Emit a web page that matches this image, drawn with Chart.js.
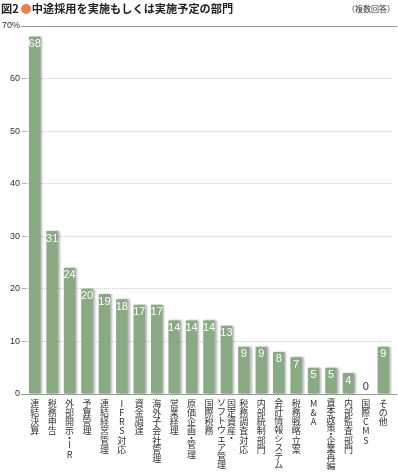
<!DOCTYPE html>
<html>
<head>
<meta charset="utf-8">
<script src="https://cdn.jsdelivr.net/npm/chart.js@4/dist/chart.umd.min.js"></script>
<style>
  body { margin: 0; background: #fff; }
  #wrap { position: relative; width: 398px; height: 474px; }
  #title { position: absolute; left: 1px; top: 0px; font: bold 11.2px "Noto Sans CJK JP", sans-serif; color: #222; line-height: 17px; }
  #title .dot { display: inline-block; width: 10px; height: 10px; border-radius: 50%; background: #e8824c; vertical-align: -1px; margin: 0 1px 0 2px; }
  #note { position: absolute; right: 3px; top: 1px; font: 8px "Noto Sans CJK JP", sans-serif; color: #333; line-height: 16px; }
  canvas { position: absolute; left: 0; top: 0; }
</style>
</head>
<body>
<div id="wrap">
  <canvas id="myChart" width="398" height="474"></canvas>
  <div id="title">図2<span class="dot"></span>中途採用を実施もしくは実施予定の部門</div>
  <div id="note">（複数回答）</div>
</div>
<script>
// 部門名 (縦書き、\n で2列)
const categories = [
  "連結決算", "税務申告", "外部開示・IR", "予算管理", "連結経営管理", "IFRS対応",
  "資金調達", "海外子会社管理", "営業経理", "原価企画・管理", "国際税務",
  "固定資産・\nソフトウェア管理", "税務調査対応", "内部統制部門", "会計情報システム",
  "税務戦略立案", "M&A", "資本政策・企業再編", "内部監査部門", "国際CMS", "その他"
];
// 割合 (%)
const values = [68, 31, 24, 20, 19, 18, 17, 17, 14, 14, 14, 13, 9, 9, 8, 7, 5, 5, 4, 0, 9];
// 目盛り
const yTicks = [0, 10, 20, 30, 40, 50, 60, 70];

const numFont = '"Liberation Sans", Arial, sans-serif';
const jpFont = '"Noto Sans CJK JP", sans-serif';

// 縦書き1列を描く (「・」は半分の高さ)
function drawColumn(ctx, text, cx, top, maxH) {
  const chars = Array.from(text);
  const units = chars.reduce((s, ch) => s + (ch === "・" ? 0.5 : 1), 0);
  const step = Math.min(9.3, maxH / units);
  let yy = top;
  chars.forEach(ch => {
    const h = ch === "・" ? step * 0.5 : step;
    ctx.fillText(ch, cx, yy + h / 2);
    yy += h;
  });
}

// 棒の影、数値、縦書きラベル、上の線
const extras = {
  id: "extras",
  beforeDatasetsDraw(chart) {
    const ctx = chart.ctx;
    ctx.save();
    ctx.shadowColor = "rgba(0,0,0,0.28)";
    ctx.shadowOffsetX = 2;
    ctx.shadowOffsetY = 0;
    ctx.shadowBlur = 2;
  },
  afterDatasetsDraw(chart) {
    const ctx = chart.ctx;
    ctx.restore();
    const meta = chart.getDatasetMeta(0);
    const x = chart.scales.x;
    const y = chart.scales.y;

    // 70% の線と0の線
    ctx.save();
    ctx.strokeStyle = "#9a9a9a";
    ctx.lineWidth = 1;
    [70, 0].forEach(v => {
      const py = Math.round(y.getPixelForValue(v)) + 0.5;
      ctx.beginPath();
      ctx.moveTo(21, py);
      ctx.lineTo(397, py);
      ctx.stroke();
    });
    ctx.restore();

    // 数値
    ctx.save();
    ctx.font = '11px "Liberation Sans Narrow", ' + numFont;
    ctx.textAlign = "center";
    ctx.textBaseline = "middle";
    meta.data.forEach((bar, i) => {
      if (values[i] === 0) {
        ctx.fillStyle = "#333";
        ctx.fillText(values[i], bar.x, bar.y - 7);
      } else {
        ctx.fillStyle = "#fff";
        ctx.fillText(values[i], bar.x, bar.y + 7.5);
      }
    });
    ctx.restore();

    // 縦書きラベル
    ctx.save();
    ctx.font = "9px " + jpFont;
    ctx.fillStyle = "#333";
    ctx.textAlign = "center";
    ctx.textBaseline = "middle";
    categories.forEach((name, i) => {
      const cx = x.getPixelForTick(i);
      const cols = name.split("\n");
      cols.forEach((col, c) => {
        const colX = cols.length > 1 ? cx + 5 - c * 10 : cx;
        drawColumn(ctx, col, colX, 398.5, 71);
      });
    });
    ctx.restore();
  }
};

new Chart(document.getElementById("myChart"), {
  type: "bar",
  data: {
    labels: categories,
    datasets: [{
      data: values,
      backgroundColor: "#8aaa84",
      borderWidth: 0,
      barPercentage: 0.66,
      categoryPercentage: 1
    }]
  },
  options: {
    responsive: false,
    animation: false,
    layout: { padding: { top: 26, right: 6, left: 0, bottom: 0 } },
    plugins: {
      legend: { display: false },
      tooltip: { enabled: false }
    },
    scales: {
      x: {
        grid: { display: false },
        border: { display: false },
        ticks: { display: false },
        afterFit(scale) { scale.height = 80; }
      },
      y: {
        min: 0,
        max: 70,
        afterBuildTicks(scale) { scale.ticks = yTicks.map(v => ({ value: v })); },
        afterFit(scale) { scale.width = 26; },
        border: { display: false, dash: [1, 1] },
        grid: {
          color: ctx => (ctx.tick && (ctx.tick.value === 70 || ctx.tick.value === 0)) ? "rgba(0,0,0,0)" : "#cccccc",
          tickColor: "#aaa",
          tickLength: 4,
          tickBorderDash: []
        },
        ticks: {
          padding: 2,
          color: "#333",
          font: { size: 9, family: numFont },
          callback: v => v === 70 ? "70%" : v
        }
      }
    }
  },
  plugins: [extras]
});
</script>
</body>
</html>
